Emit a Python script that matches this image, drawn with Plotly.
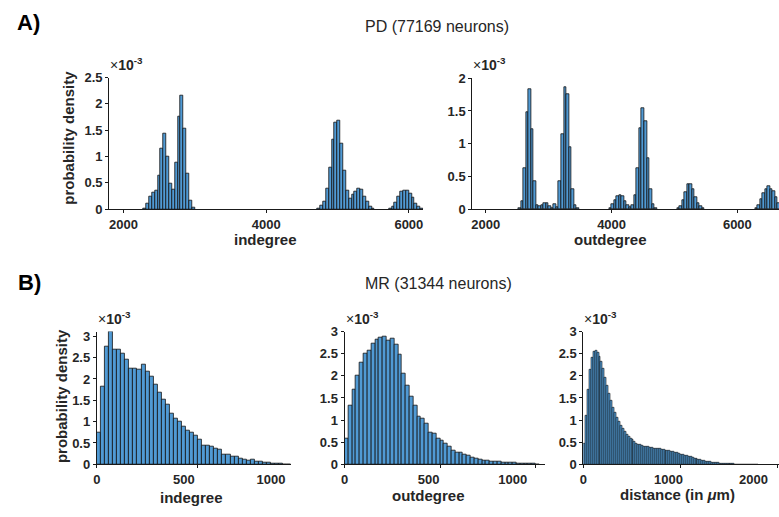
import plotly.graph_objects as go

# ---------------- data (heights in units of 1e-3, probability density) ----------------
# Panel A: PD, indegree (bin width 40)
PD_IN_BIN = 40
PD_IN_STARTS = [2280, 4720, 5720]
PD_IN_C1 = [0.01, 0.11, 0.24, 0.31, 0.35, 0.64, 1.15, 1.43, 1.0, 0.48, 0.37, 0.89, 1.76, 2.16, 1.54, 0.68, 0.17, 0.04]
PD_IN_C2 = [0.02, 0.07, 0.14, 0.39, 0.79, 1.33, 1.64, 1.69, 1.25, 0.74, 0.36, 0.21, 0.28, 0.33, 0.39, 0.37, 0.25, 0.15, 0.06, 0.02]
PD_IN_C3 = [0.02, 0.06, 0.13, 0.24, 0.33, 0.35, 0.35, 0.29, 0.22, 0.11, 0.05, 0.02]

# Panel A: PD, outdegree (bin width 40)
PD_OUT_BIN = 40
PD_OUT_STARTS = [2520, 3960, 5040, 6280]
PD_OUT_C1 = [0.01, 0.13, 0.62, 1.48, 1.83, 1.22, 0.43, 0.07, 0.04, 0.06, 0.09, 0.09, 0.05, 0.02, 0.08, 0.03,
             0.43, 1.15, 1.86, 1.76, 0.95, 0.31, 0.06, 0.01]
PD_OUT_C2 = [0.02, 0.08, 0.14, 0.2, 0.22, 0.2, 0.12, 0.06, 0.03, 0.06, 0.22, 0.63, 1.24, 1.54, 1.35, 0.78, 0.31, 0.08, 0.01]
PD_OUT_C3 = [0.01, 0.05, 0.14, 0.26, 0.39, 0.39, 0.31, 0.19, 0.1, 0.04, 0.01]
PD_OUT_C4 = [0.02, 0.06, 0.15, 0.25, 0.31, 0.35, 0.31, 0.27, 0.18, 0.09, 0.04, 0.01]

# Panel B: MR, indegree (bin width 20, starting at 0)
MR_IN_BIN = 20
MR_IN = [0.74, 1.83, 2.75, 3.11, 2.68, 2.70, 2.60, 2.46, 2.24, 2.24, 2.23, 2.33, 2.17, 2.05, 1.88, 1.67,
         1.52, 1.39, 1.20, 1.07, 1.00, 0.88, 0.78, 0.74, 0.67, 0.58, 0.45, 0.45, 0.42, 0.38, 0.34, 0.23,
         0.23, 0.19, 0.17, 0.14, 0.11, 0.09, 0.11, 0.07, 0.06, 0.05, 0.04, 0.02, 0.015, 0.01, 0.005, 0.004]

# Panel B: MR, outdegree (bin width 20, starting at 0)
MR_OUT_BIN = 20
MR_OUT = [0.58, 1.33, 1.68, 2.00, 2.30, 2.50, 2.58, 2.73, 2.83, 2.87, 2.88, 2.79, 2.85, 2.70, 2.47, 2.06,
          1.79, 1.52, 1.33, 1.09, 1.04, 0.93, 0.72, 0.69, 0.58, 0.53, 0.46, 0.40, 0.31, 0.27, 0.27, 0.22,
          0.20, 0.16, 0.14, 0.11, 0.095, 0.09, 0.07, 0.06, 0.06, 0.045, 0.035, 0.03, 0.03, 0.02, 0.015,
          0.015, 0.02, 0.01, 0.005]

# Panel B: MR, distance in um (bin width 20, starting at 0)
MR_DIST_BIN = 20
MR_DIST = [0.46, 1.10, 1.70, 2.13, 2.42, 2.55, 2.56, 2.52, 2.44, 2.32, 2.17, 1.97, 1.78, 1.59, 1.43, 1.28,
           1.16, 1.05, 0.96, 0.87, 0.80, 0.74, 0.68, 0.63, 0.58, 0.55, 0.51, 0.48, 0.455, 0.435, 0.42, 0.41,
           0.40, 0.39, 0.38, 0.375, 0.367, 0.36, 0.352, 0.345, 0.338, 0.33, 0.32, 0.31, 0.30, 0.29, 0.28,
           0.268, 0.255, 0.243, 0.23, 0.218, 0.205, 0.19, 0.178, 0.165, 0.152, 0.14, 0.127, 0.115, 0.103,
           0.092, 0.082, 0.073, 0.064, 0.056, 0.049, 0.042, 0.036, 0.031, 0.026, 0.022, 0.018, 0.015, 0.012,
           0.010, 0.008, 0.0065, 0.005, 0.004, 0.003, 0.0025, 0.002, 0.0015, 0.001, 0.001, 0.0008, 0.0006,
           0.0005, 0.0004]

TOP_XTICKS = [2000, 4000, 6000]
DEG_XTICKS = [0, 500, 1000]
DIST_XTICKS = [0, 1000, 2000]

# ---------------- styling ----------------
W, H = 779, 517
FONT = "Liberation Sans, Arial, sans-serif"
AX_COLOR = "#1a1a1a"
TXT_COLOR = "#262626"
BAR_FILL = "rgb(80,154,212)"
BAR_EDGE = "#111111"


def centers(start, width, n):
    return [start + width * (i + 0.5) for i in range(n)]


def px_x(a, b):
    return [a / W, b / W]


def px_y(top, bottom):
    return [1 - bottom / H, 1 - top / H]


fig = go.Figure()


def add_hist(clusters, width, xa, ya, edge_w=0.8):
    for start, vals in clusters:
        fig.add_trace(go.Bar(
            x=centers(start, width, len(vals)), y=vals, width=width,
            marker=dict(color=BAR_FILL, line=dict(color=BAR_EDGE, width=edge_w)),
            xaxis=xa, yaxis=ya, showlegend=False, hoverinfo="skip"))


add_hist(list(zip(PD_IN_STARTS, [PD_IN_C1, PD_IN_C2, PD_IN_C3])), PD_IN_BIN, "x", "y")
add_hist(list(zip(PD_OUT_STARTS, [PD_OUT_C1, PD_OUT_C2, PD_OUT_C3, PD_OUT_C4])), PD_OUT_BIN, "x2", "y2")
add_hist([(0, MR_IN)], MR_IN_BIN, "x3", "y3")
add_hist([(0, MR_OUT)], MR_OUT_BIN, "x4", "y4")
add_hist([(0, MR_DIST)], MR_DIST_BIN, "x5", "y5", edge_w=0.6)

# empty traces so the tick-label axes of row B exist
for xa, ya in [("x6", "y3"), ("x7", "y4"), ("x8", "y5")]:
    fig.add_trace(go.Scatter(x=[], y=[], xaxis=xa, yaxis=ya, showlegend=False, hoverinfo="skip"))

tickfont = dict(family=FONT, size=13, color=TXT_COLOR, weight="bold")


def xax(domain, rng, tickvals, anchor, labels=True):
    return dict(domain=domain, range=rng, anchor=anchor, tickvals=tickvals,
                showline=True, linecolor=AX_COLOR, linewidth=1, ticks="outside", ticklen=3,
                tickcolor=AX_COLOR, showgrid=False, zeroline=False, tickfont=tickfont,
                showticklabels=labels)


def label_ax(base, rng, tickvals, anchor):
    # tick labels of row B sit slightly compressed toward the origin in the reference
    return dict(overlaying=base, range=rng, anchor=anchor, side="bottom", tickvals=tickvals,
                showline=False, ticks="outside", ticklen=3, tickcolor="rgba(0,0,0,0)",
                showgrid=False, zeroline=False, tickfont=tickfont)


def yax(domain, rng, anchor):
    return dict(domain=domain, range=rng, anchor=anchor, dtick=0.5, tick0=0,
                showline=True, linecolor=AX_COLOR, linewidth=1, ticks="outside", ticklen=3,
                tickcolor=AX_COLOR, showgrid=False, zeroline=False, tickfont=tickfont)


top_y = px_y(72.7, 208.3)
top_y2 = px_y(73.3, 208.3)
bot_y = px_y(334.3, 471.0)

fig.update_layout(
    width=W, height=H, margin=dict(l=0, r=0, t=0, b=0),
    paper_bgcolor="white", plot_bgcolor="white", bargap=0,
    font=dict(family=FONT, color=TXT_COLOR),
    xaxis=xax(px_x(105.7, 421.3), [1800, 6200], TOP_XTICKS, "y"),
    yaxis=yax(top_y, [0, 2.5], "x"),
    xaxis2=xax(px_x(470.7, 779), [1785, 6662], TOP_XTICKS, "y2"),
    yaxis2=yax(top_y2, [0, 2], "x2"),
    xaxis3=xax(px_x(93.3, 288.5), [0, 960], DEG_XTICKS, "y3", labels=False),
    yaxis3=yax(bot_y, [0, 3.11], "x3"),
    xaxis4=xax(px_x(342.3, 544.0), [0, 1050], DEG_XTICKS, "y4", labels=False),
    yaxis4=yax(bot_y, [0, 3.0], "x4"),
    xaxis5=xax(px_x(582.3, 779), [0, 2017], DIST_XTICKS, "y5", labels=False),
    yaxis5=yax(bot_y, [0, 3.0], "x5"),
    xaxis6=label_ax("x3", [0, 1115], DEG_XTICKS, "y3"),
    xaxis7=label_ax("x4", [0, 1193], DEG_XTICKS, "y4"),
    xaxis8=label_ax("x5", [0, 2300], DIST_XTICKS, "y5"),
)

ann = []


def txt(text, x, y, size, bold=False, angle=0, color=TXT_COLOR):
    ann.append(dict(text=text, x=x / W, y=1 - y / H, xref="paper", yref="paper",
                    xanchor="center", yanchor="middle", showarrow=False, textangle=angle,
                    font=dict(family=FONT, size=size, color=color, weight="bold" if bold else "normal")))


# panel letters
txt("A)", 25, 16, 22, bold=True, color="black")
txt("B)", 26, 284, 22, bold=True, color="black")
# row titles
txt("PD (77169 neurons)", 435, 20, 16)
txt("MR (31344 neurons)", 437, 285, 16)
# axis titles
txt("indegree", 263, 239, 15, bold=True)
txt("outdegree", 610, 239, 15, bold=True)
txt("indegree", 188, 505, 15, bold=True)
txt("outdegree", 427, 503, 15, bold=True)
txt("distance (in <i>μ</i>m)", 677, 502, 15, bold=True)
txt("probability density", 64, 135, 15, bold=True, angle=-90)
txt("probability density", 58, 401, 15, bold=True, angle=-90)

# exponent labels
for xa, ya in [("x", "y"), ("x2", "y2"), ("x3", "y3"), ("x4", "y4"), ("x5", "y5")]:
    ann.append(dict(text="×<b>10</b><sup><b>-3</b></sup>", x=0, y=1, xref=f"{xa} domain", yref=f"{ya} domain",
                    xanchor="left", yanchor="bottom", yshift=3, xshift=-1, showarrow=False,
                    font=dict(family=FONT, size=14, color=TXT_COLOR)))
fig.update_layout(annotations=ann)

PIN_PAGE = (
    "document.documentElement.style.margin='0px';"
    "document.body.style.margin='0px';"
    "document.body.style.overflow='hidden';"
    "var gd=document.querySelector('.plotly-graph-div');"
    "gd.style.position='fixed';gd.style.left='0px';gd.style.top='0px';"
)
fig.write_html("out.html", post_script=PIN_PAGE)
